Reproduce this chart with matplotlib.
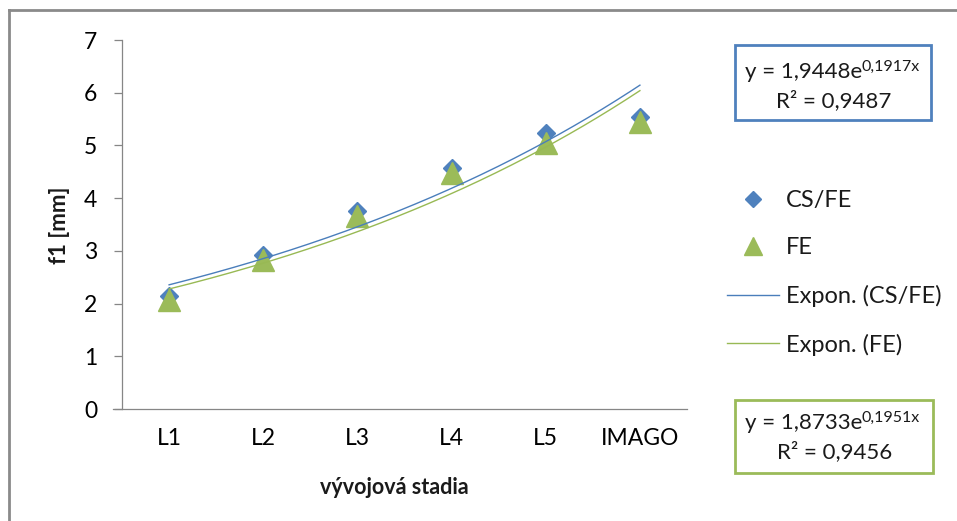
import numpy as np
import matplotlib
matplotlib.use("Agg")
import matplotlib.pyplot as plt
from matplotlib.lines import Line2D
from matplotlib.patches import Rectangle

# Developmental stages and measured f1 values [mm]
stages = ["L1", "L2", "L3", "L4", "L5", "IMAGO"]
cs_fe = [2.15, 2.93, 3.76, 4.57, 5.23, 5.53]
fe = [2.07, 2.82, 3.67, 4.47, 5.05, 5.45]

# Exponential trend lines y = a * exp(b * x) and their R^2
cs_fe_a, cs_fe_b, cs_fe_r2 = 1.9448, 0.1917, 0.9487
fe_a, fe_b, fe_r2 = 1.8733, 0.1951, 0.9456

y_ticks = [0, 1, 2, 3, 4, 5, 6, 7]

BLUE = "#4F81BD"
GREEN = "#9BBB59"
BLUE_LINE = "#4A7EBB"
GREEN_LINE = "#98B954"
AXIS_GREY = "#868686"

plt.rcParams["font.family"] = ["Lato", "DejaVu Sans"]
plt.rcParams["text.color"] = "#1a1a1a"

W, H = 957, 521
fig = plt.figure(figsize=(W / 100, H / 100), dpi=100)
fig.patch.set_facecolor("white")


def fx(px):
    return px / W


def fy(py):
    return 1 - py / H


# chart-area frame (left and top edges visible)
fig.add_artist(Line2D([fx(9), fx(9)], [fy(10), fy(530)], color="#8a8a8a",
                      lw=2.0, transform=fig.transFigure))
fig.add_artist(Line2D([fx(9), fx(970)], [fy(10), fy(10)], color="#8a8a8a",
                      lw=2.0, transform=fig.transFigure))

ax = fig.add_axes([fx(122), fy(409), fx(687) - fx(122), fy(40) - fy(409)])

x = np.arange(1, len(stages) + 1)
ax.plot(x, cs_fe, linestyle="none", marker="D", ms=9.5, color=BLUE,
        mec=BLUE, label="CS/FE", zorder=3)
ax.plot(x, fe, linestyle="none", marker="^", ms=16, color=GREEN,
        mec=GREEN, label="FE", zorder=4)

xs = np.linspace(x[0], x[-1], 200)
ax.plot(xs, cs_fe_a * np.exp(cs_fe_b * xs), color=BLUE_LINE, lw=1.0,
        label="Expon. (CS/FE)", zorder=5)
ax.plot(xs, fe_a * np.exp(fe_b * xs), color=GREEN_LINE, lw=1.0,
        label="Expon. (FE)", zorder=5)

ax.set_xlim(0.5, len(stages) + 0.5)
ax.set_ylim(y_ticks[0], y_ticks[-1])
ax.set_xticks(x)
ax.set_xticklabels(stages)
ax.set_yticks(y_ticks)
ax.tick_params(axis="x", length=0, pad=14, labelsize=16.5)
ax.tick_params(axis="y", length=6, width=0.9, color=AXIS_GREY, pad=12,
               labelsize=16.5)

for side in ("top", "right"):
    ax.spines[side].set_visible(False)
for side in ("left", "bottom"):
    ax.spines[side].set_color(AXIS_GREY)
    ax.spines[side].set_linewidth(0.9)
ax.spines["bottom"].set_bounds(0.5 - 9 / 94.2, len(stages) + 0.5)

fig.text(fx(60), fy(225), "f1 [mm]", rotation=90, ha="center", va="center",
         fontsize=16, fontweight="bold")
fig.text(fx(394), fy(487), "vývojová stadia", ha="center", va="center",
         fontsize=15.5, fontweight="bold")

leg = fig.legend(loc="upper left", bbox_to_anchor=(fx(727), fy(190)),
                 frameon=False, fontsize=17, handlelength=2.2,
                 handletextpad=0.3, labelspacing=1.12, markerscale=0.85,
                 borderaxespad=0, borderpad=0)


# trend line equation boxes
def eq_box(x0, y0, x1, y1, edge, a, b, r2, base1, base2):
    fig.add_artist(Rectangle((fx(x0), fy(y1)), fx(x1) - fx(x0),
                             fy(y0) - fy(y1), transform=fig.transFigure,
                             facecolor="white", edgecolor=edge, lw=2.0))
    a_s = f"{a:.4f}".replace(".", ",")
    b_s = f"{b:.4f}".replace(".", ",")
    r_s = f"{r2:.4f}".replace(".", ",")
    split = 862
    fig.text(fx(split), fy(base1), f"y = {a_s}e", ha="right", va="baseline",
             fontsize=16)
    fig.text(fx(split), fy(base1 - 7), f"{b_s}x", ha="left", va="baseline",
             fontsize=11.5)
    fig.text(fx((x0 + x1) / 2 + 1), fy(base2), f"R² = {r_s}", ha="center",
             va="baseline", fontsize=16)


eq_box(735, 45, 931, 120, BLUE, cs_fe_a, cs_fe_b, cs_fe_r2, 78, 107)
eq_box(735, 400, 933, 473, GREEN, fe_a, fe_b, fe_r2, 429, 458)

fig.savefig("out.png", dpi=100, facecolor="white")
